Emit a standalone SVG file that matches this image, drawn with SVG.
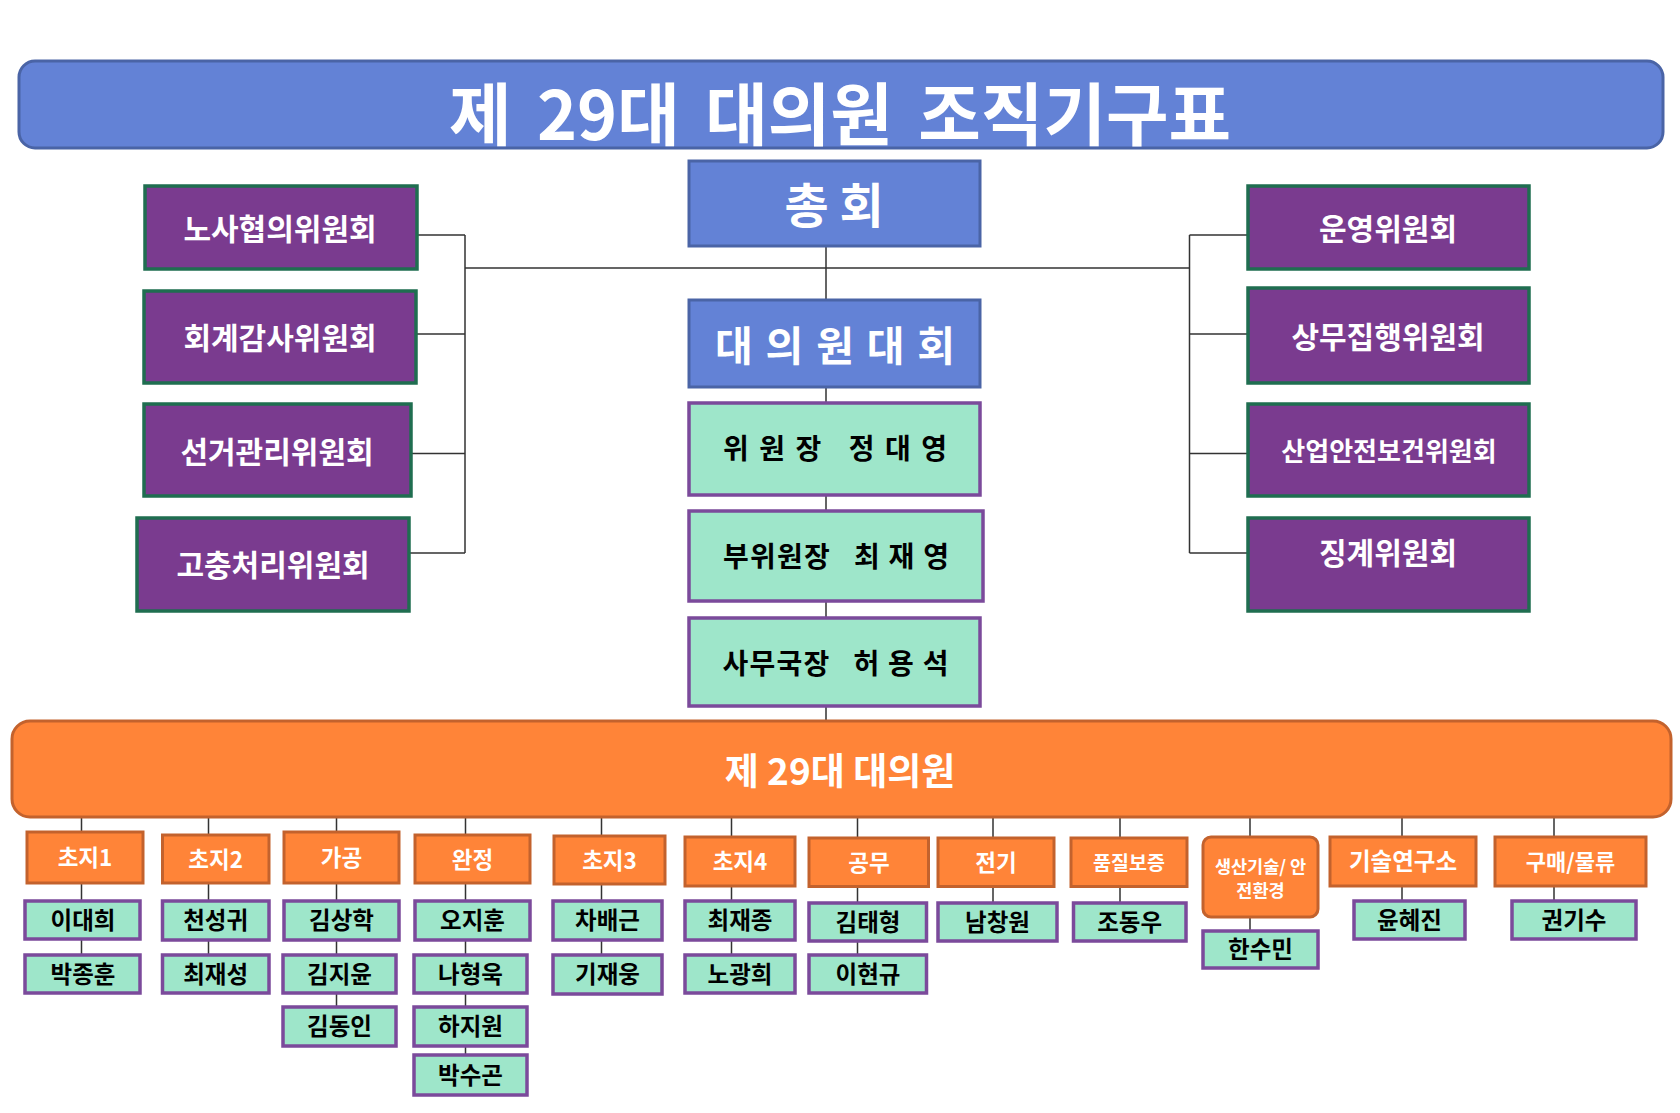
<svg xmlns="http://www.w3.org/2000/svg" width="1680" height="1113" viewBox="0 0 1680 1113">
<style>
text{font-family:"Noto Sans CJK KR","Noto Sans",sans-serif;font-weight:700;text-anchor:middle}
.blue{fill:#6382D6;stroke:#4A64A6;stroke-width:3}
.pur{fill:#7A3B8F;stroke:#1F6E50;stroke-width:3.5}
.grn{fill:#9EE6CA;stroke:#7B4A9B;stroke-width:3.5}
.org{fill:#FF8438;stroke:#C3622D;stroke-width:3}
.w{fill:#FFFFFF}
.k{fill:#000000}
.pt{font-size:30px}
.ct{font-size:28px}
.ol{font-size:22.5px}
.nm{font-size:23.5px}
.ln{stroke:#333333;stroke-width:1.5;fill:none}
</style>
<rect width="1680" height="1113" fill="#FFFFFF"/>
<g id="connectors">
<path class="ln" d="M826 246V721M465 268H1189.5M465 235V553M417 235H465M416 334H465M411 453.5H465M409 553H465M1189.5 235V553M1189.5 235H1248M1189.5 334H1248M1189.5 453.5H1248M1189.5 553H1248"/>
<path class="ln" d="M81.5 817V955M208.5 817V955M336.5 817V1007M465.5 817V1055M601.5 817V955M731.5 817V955M857.5 817V955M993 817V903M1120 817V903M1250 817V931M1402 817V901M1554 817V901"/>
</g>
<g id="title">
<rect class="blue" x="19" y="61" width="1644" height="87" rx="16"/>
<text class="w" x="840" y="140" font-size="68" word-spacing="10">제 29대 대의원 조직기구표</text>
</g>
<g id="chonghoe">
<rect class="blue" x="689" y="161" width="291" height="85"/>
<text class="w" x="834" y="223" font-size="48">총 회</text>
</g>
<g id="daeuiwon-daehoe">
<rect class="blue" x="689" y="300" width="291" height="87"/>
<text class="w" x="835" y="361" font-size="41" textLength="240" lengthAdjust="spacing">대 의 원 대 회</text>
</g>
<g id="chair">
<rect class="grn" x="689" y="403" width="291" height="92"/>
<text class="k ct" x="835" y="459" xml:space="preserve" style="white-space:pre" textLength="224" lengthAdjust="spacing">위 원 장   정 대 영</text>
</g>
<g id="vice-chair">
<rect class="grn" x="689" y="511" width="294" height="90"/>
<text class="k ct" x="836" y="567" xml:space="preserve" style="white-space:pre" textLength="226" lengthAdjust="spacing">부위원장   최 재 영</text>
</g>
<g id="secretary">
<rect class="grn" x="689" y="618" width="291" height="88"/>
<text class="k ct" x="835.5" y="674" xml:space="preserve" style="white-space:pre" textLength="226" lengthAdjust="spacing">사무국장   허 용 석</text>
</g>
<g id="nosa">
<rect class="pur" x="145" y="186" width="272" height="83"/>
<text class="w pt" x="280" y="240">노사협의위원회</text>
</g>
<g id="hoegye">
<rect class="pur" x="144" y="291" width="272" height="92"/>
<text class="w pt" x="280" y="349">회계감사위원회</text>
</g>
<g id="seongeo">
<rect class="pur" x="144" y="404" width="267" height="92"/>
<text class="w pt" x="277" y="462.5">선거관리위원회</text>
</g>
<g id="gochung">
<rect class="pur" x="137" y="518" width="272" height="93"/>
<text class="w pt" x="273" y="576">고충처리위원회</text>
</g>
<g id="unyeong">
<rect class="pur" x="1248" y="186" width="281" height="83"/>
<text class="w pt" x="1388" y="240">운영위원회</text>
</g>
<g id="sangmu">
<rect class="pur" x="1248" y="288" width="281" height="95"/>
<text class="w pt" x="1388" y="347.5">상무집행위원회</text>
</g>
<g id="saneop">
<rect class="pur" x="1248" y="404" width="281" height="92"/>
<text class="w" x="1389" y="461" font-size="26">산업안전보건위원회</text>
</g>
<g id="jinggye">
<rect class="pur" x="1248" y="518" width="281" height="93"/>
<text class="w pt" x="1388" y="563.5">징계위원회</text>
</g>
<g id="daeuiwon">
<rect class="org" x="12" y="721" width="1659" height="96" rx="18"/>
<text class="w" x="840" y="785" font-size="37">제 29대 대의원</text>
</g>
<g id="choji1">
<rect class="org" x="27" y="832" width="116" height="51"/>
<text class="w ol" x="85" y="866">초지1</text>
</g>
<g id="choji2">
<rect class="org" x="162.5" y="835" width="106.5" height="48"/>
<text class="w ol" x="215.7" y="867.5">초지2</text>
</g>
<g id="gagong">
<rect class="org" x="284" y="832" width="115" height="51"/>
<text class="w ol" x="341.5" y="866">가공</text>
</g>
<g id="wanjeong">
<rect class="org" x="415" y="835" width="115" height="48"/>
<text class="w ol" x="472.5" y="867.5">완정</text>
</g>
<g id="choji3">
<rect class="org" x="554" y="836" width="111" height="48"/>
<text class="w ol" x="609.5" y="868.5">초지3</text>
</g>
<g id="choji4">
<rect class="org" x="685" y="837" width="110" height="49"/>
<text class="w ol" x="740" y="870">초지4</text>
</g>
<g id="gongmu">
<rect class="org" x="809" y="838" width="119.5" height="48.5"/>
<text class="w ol" x="869" y="871">공무</text>
</g>
<g id="jeongi">
<rect class="org" x="938" y="838" width="116" height="48.5"/>
<text class="w ol" x="996" y="871">전기</text>
</g>
<g id="pumjil">
<rect class="org" x="1071" y="838" width="116" height="48.5"/>
<text class="w" x="1129" y="870" font-size="19.5">품질보증</text>
</g>
<g id="saengsan">
<rect class="org" x="1203" y="837" width="115" height="80" rx="8"/>
<text class="w" x="1260.5" y="873" font-size="17.5" xml:space="preserve" style="white-space:pre">생산기술/ 안</text>
<text class="w" x="1260.5" y="897" font-size="17.5">전환경</text>
</g>
<g id="gisul">
<rect class="org" x="1330" y="837" width="146" height="49"/>
<text class="w" x="1403" y="870" font-size="23.5">기술연구소</text>
</g>
<g id="gumae">
<rect class="org" x="1495" y="837" width="151" height="49"/>
<text class="w" x="1570.5" y="869.5" font-size="22">구매/물류</text>
</g>
<g id="n-idaehui"><rect class="grn" x="25" y="901" width="115" height="38"/><text class="k nm" x="83" y="928.5">이대희</text></g>
<g id="n-parkjonghun"><rect class="grn" x="25" y="955" width="115" height="38"/><text class="k nm" x="83" y="982.5">박종훈</text></g>
<g id="n-cheonseonggwi"><rect class="grn" x="162.5" y="901" width="106.5" height="39"/><text class="k nm" x="215.7" y="929">천성귀</text></g>
<g id="n-choejaeseong"><rect class="grn" x="162.5" y="955" width="106.5" height="38"/><text class="k nm" x="215.7" y="982.5">최재성</text></g>
<g id="n-kimsanghak"><rect class="grn" x="284" y="901" width="115" height="39"/><text class="k nm" x="341.5" y="929">김상학</text></g>
<g id="n-kimjiyun"><rect class="grn" x="283" y="955" width="113" height="38"/><text class="k nm" x="339.5" y="982.5">김지윤</text></g>
<g id="n-kimdongin"><rect class="grn" x="283" y="1007" width="113" height="39"/><text class="k nm" x="339.5" y="1035">김동인</text></g>
<g id="n-ojihun"><rect class="grn" x="415" y="901" width="115" height="39"/><text class="k nm" x="472.5" y="929">오지훈</text></g>
<g id="n-nahyeonguk"><rect class="grn" x="414" y="955" width="113" height="38"/><text class="k nm" x="470.5" y="982.5">나형욱</text></g>
<g id="n-hajiwon"><rect class="grn" x="414" y="1007" width="113" height="39"/><text class="k nm" x="470.5" y="1035">하지원</text></g>
<g id="n-parksugon"><rect class="grn" x="414" y="1055" width="113" height="40"/><text class="k nm" x="470.5" y="1083.5">박수곤</text></g>
<g id="n-chabaegeun"><rect class="grn" x="553" y="901" width="109" height="39"/><text class="k nm" x="607.5" y="929">차배근</text></g>
<g id="n-gijaeung"><rect class="grn" x="553" y="955" width="109" height="39"/><text class="k nm" x="607.5" y="983">기재웅</text></g>
<g id="n-choejaejong"><rect class="grn" x="685" y="901" width="110" height="39"/><text class="k nm" x="740" y="929">최재종</text></g>
<g id="n-nogwanghui"><rect class="grn" x="685" y="955" width="110" height="38"/><text class="k nm" x="740" y="982.5">노광희</text></g>
<g id="n-kimtaehyeong"><rect class="grn" x="809" y="903" width="117.5" height="38"/><text class="k nm" x="868" y="930.5">김태형</text></g>
<g id="n-ihyeongyu"><rect class="grn" x="809" y="955" width="117.5" height="38"/><text class="k nm" x="868" y="982.5">이현규</text></g>
<g id="n-namchangwon"><rect class="grn" x="938" y="903" width="119" height="38"/><text class="k nm" x="997.5" y="930.5">남창원</text></g>
<g id="n-jodongu"><rect class="grn" x="1073.5" y="903" width="112.5" height="38"/><text class="k nm" x="1129.7" y="930.5">조동우</text></g>
<g id="n-hansumin"><rect class="grn" x="1203" y="931" width="115" height="37"/><text class="k nm" x="1260.5" y="958">한수민</text></g>
<g id="n-yunhyejin"><rect class="grn" x="1354" y="901" width="111" height="38"/><text class="k nm" x="1409.5" y="928.5">윤혜진</text></g>
<g id="n-gwongisu"><rect class="grn" x="1512" y="901" width="124" height="38"/><text class="k nm" x="1574" y="928.5">권기수</text></g>
</svg>
